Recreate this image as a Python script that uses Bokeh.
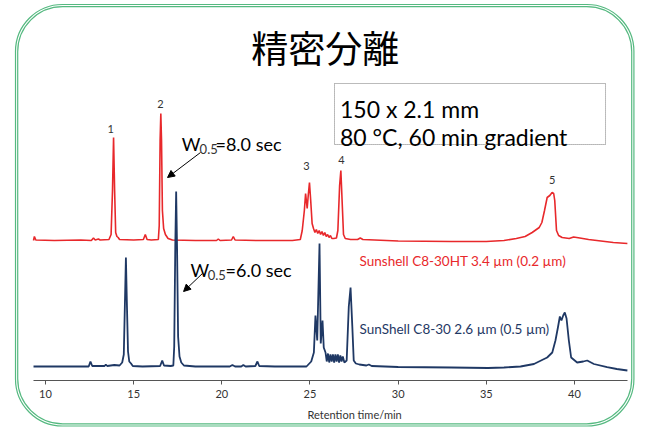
from bokeh.plotting import figure
from bokeh.models import Range1d, Label, BoxAnnotation, Arrow, NormalHead, ColumnDataSource
from bokeh.embed import file_html
from bokeh.resources import INLINE

# ---------------- data (retention time / min, signal / a.u.) ----------------
red_time = [
    9.32, 9.37, 9.45, 10.5, 12.0, 12.6, 12.72, 12.82, 13.0, 13.1,
    13.6, 13.72, 13.80, 13.86, 13.92, 13.98, 14.05, 14.12, 14.2, 15.0,
    15.55, 15.66, 15.76, 16.0, 16.40, 16.45, 16.50, 16.54, 16.58, 16.63,
    16.70, 16.80, 16.95, 17.2, 18.5, 19.7, 19.8, 19.9, 20.55, 20.65,
    20.75, 22.0, 24.0, 24.45, 24.56, 24.68, 24.75, 24.84, 24.90, 24.97,
    25.04, 25.12, 25.20, 25.28, 25.36, 25.44, 25.52, 25.60, 25.68, 25.76,
    25.84, 25.92, 26.00, 26.08, 26.16, 26.24, 26.35, 26.50, 26.58, 26.68,
    26.75, 26.82, 26.90, 27.0, 27.3, 27.7, 27.85, 28.0, 30.0, 33.0,
    35.0, 36.0, 36.7, 37.2, 37.6, 38.0, 38.15, 38.3, 38.45, 38.6,
    38.73, 38.82, 38.88, 38.98, 39.1, 39.3, 39.7, 39.95, 40.3, 40.8,
    41.5, 42.2, 43.0,
]
red_signal = [
    0, 4, 0.5, 0, 0.5, 0, 2.5, 0.5, 1.5, 0.5,
    1, 6, 50, 103, 50, 8, 4, 3, 1, 0.5,
    1, 6, 1, 0.5, 1, 15, 100, 127, 100, 30,
    12, 6, 2, 0.5, 0, 0, 1.5, 0, 0.5, 4,
    0.5, 0, 0, 1, 10, 30, 47, 32, 45, 58,
    40, 17, 12, 8, 11, 7, 10, 6, 9, 5,
    8, 4, 6, 3, 5, 2, 2, 2.5, 10, 55,
    70, 40, 6, 2, 1, 1, 2.5, 1, -0.5, -1,
    -1, 0, 2, 4, 8, 13, 18, 30, 43, 45,
    48, 47, 40, 10, 5, 3, 2, 3.5, 2.5, 1,
    -0.5, -2, -3,
]
blue_time = [
    9.32, 10.5, 12.0, 12.45, 12.55, 12.65, 13.35, 13.42, 13.5, 13.9,
    14.2, 14.35, 14.44, 14.50, 14.56, 14.62, 14.68, 14.75, 14.85, 14.95,
    15.5, 16.5, 16.62, 16.72, 17.1, 17.25, 17.30, 17.36, 17.41, 17.46,
    17.52, 17.60, 17.70, 17.85, 18.5, 20.45, 20.6, 20.75, 21.1, 21.22,
    21.35, 21.9, 22.02, 22.12, 23.0, 24.8, 25.07, 25.22, 25.31, 25.41,
    25.54, 25.61, 25.71, 25.78, 25.88, 25.95, 26.02, 26.09, 26.16, 26.23,
    26.30, 26.37, 26.44, 26.51, 26.58, 26.65, 26.72, 26.79, 26.86, 26.95,
    27.08, 27.20, 27.30, 27.40, 27.48, 27.6, 27.8, 28.2, 28.34, 28.5,
    30.0, 33.0, 35.1, 36.0, 36.94, 37.7, 38.45, 38.74, 38.92, 39.06,
    39.17, 39.26, 39.36, 39.45, 39.55, 39.68, 39.81, 40.15, 40.5, 40.72,
    41.1, 41.85, 42.4, 43.0,
]
blue_signal = [
    0, 0, 0, 0, 5, 0.5, 0.5, 2, 0.5, 1.5,
    1, 4, 12, 60, 109, 60, 15, 5, 3, 0.5,
    0, 0.5, 6, 1, 0.5, 1, 20, 120, 175, 120,
    30, 10, 4, 1, 0, 0, 1.5, 0, 0, 1.5,
    0, 0.5, 5, 0.5, 0, 0, 5, 14, 51, 26,
    123, 23, 46, 19, 14, 5, 13, 4, 12, 5,
    12, 4, 12, 5, 12, 4, 11, 5, 10, 4,
    6, 60, 79, 40, 6, 3, 2, 1, 2, 0.5,
    -0.5, -1, -1.5, -1, 0, 2.5, 9, 14, 26, 39,
    50, 46, 51, 54, 48, 26, 9, 4, 5, 6,
    2.5, -0.7, -2.5, -4,
]
assert len(red_time) == len(red_signal)
assert len(blue_time) == len(blue_signal)

red_offset = 126  # vertical stacking of the upper chromatogram

peak_numbers = ["1", "2", "3", "4", "5"]
peak_label_time = [13.69, 16.52, 24.80, 26.79, 38.73]
peak_label_y = [238, 263, 201, 207, 187]

x_ticks = [10, 15, 20, 25, 30, 35, 40]

title_text = "精密分離"
cond_line1 = "150 x 2.1 mm"
cond_line2 = "80 \u00b0C, 60 min gradient"
red_name = "Sunshell C8-30HT 3.4 \u00b5m (0.2 \u00b5m)"
blue_name = "SunShell C8-30 2.6 \u00b5m (0.5 \u00b5m)"
x_title = "Retention time/min"

RED = "#e8282b"
BLUE = "#1f3864"
GREEN = "#55b980"
FONT = "Lato"

p = figure(width=641, height=428,
           x_range=Range1d(7.448, 43.80), y_range=Range1d(-62, 366),
           output_backend="svg", toolbar_location=None,
           y_axis_location=None,
           min_border_left=0, min_border_right=0, min_border_top=0,
           min_border_bottom=0)
p.outline_line_color = None
p.grid.visible = False
p.background_fill_color = "white"
p.border_fill_color = "white"

ax = p.xaxis[0]
ax.fixed_location = -14
ax.ticker = x_ticks
ax.bounds = (9.32, 43.0)
ax.axis_line_color = "#555555"
ax.axis_line_width = 1.2
ax.major_tick_line_color = "#555555"
ax.major_tick_out = 4
ax.major_tick_in = 0
ax.minor_tick_line_color = None
ax.major_label_standoff = 5
ax.major_label_text_font = FONT
ax.major_label_text_font_size = "11px"
ax.major_label_text_color = "#333333"

red_src = ColumnDataSource(dict(t=red_time, y=[v + red_offset for v in red_signal]))
blue_src = ColumnDataSource(dict(t=blue_time, y=blue_signal))
p.line("t", "y", source=red_src, line_color=RED, line_width=1.6)
p.line("t", "y", source=blue_src, line_color=BLUE, line_width=1.8)

# rounded frame (double green line)
p.add_layout(BoxAnnotation(left=8.299, right=43.37, top=362, bottom=-59.5,
                           fill_alpha=0, line_color=GREEN, line_alpha=1,
                           line_width=1.2, border_radius=47))
p.add_layout(BoxAnnotation(left=8.424, right=43.245, top=359.8, bottom=-57.3,
                           fill_alpha=0, line_color=GREEN, line_alpha=1,
                           line_width=1.2, border_radius=45))

# conditions box
p.add_layout(BoxAnnotation(left=26.39, right=41.76, top=283, bottom=222,
                           fill_alpha=0, line_color="#777777", line_alpha=1,
                           line_width=1, line_dash="1 1"))
p.add_layout(Label(x=26.70, y=257.7, text=cond_line1, text_font=FONT,
                   text_font_size="23px", text_color="black",
                   text_baseline="alphabetic", text_align="left"))
p.add_layout(Label(x=26.70, y=230, text=cond_line2, text_font=FONT,
                   text_font_size="23px", text_color="black",
                   text_baseline="alphabetic", text_align="left"))

# title
p.add_layout(Label(x=25.86, y=319.5, text=title_text, text_font="Noto Sans CJK JP",
                   text_font_size="37px", text_color="black",
                   text_baseline="middle", text_align="center"))

# peak numbers
for s, t, y in zip(peak_numbers, peak_label_time, peak_label_y):
    p.add_layout(Label(x=t, y=y, text=s, text_font=FONT, text_font_size="11px",
                       text_color="#333333", text_align="center",
                       text_baseline="middle"))

# W0.5 annotations
def w_note(x_w, x_sub, x_rest, y_base, rest):
    p.add_layout(Label(x=x_w, y=y_base, text="W", text_font=FONT,
                       text_font_size="18px", text_color="black",
                       text_baseline="alphabetic"))
    p.add_layout(Label(x=x_sub, y=y_base - 5, text="0.5", text_font=FONT,
                       text_font_size="13px", text_color="#333333",
                       text_baseline="alphabetic"))
    p.add_layout(Label(x=x_rest, y=y_base, text=rest, text_font=FONT,
                       text_font_size="18px", text_color="black",
                       text_baseline="alphabetic"))

w_note(17.72, 18.74, 19.64, 222.7, "=8.0 sec")
w_note(18.22, 19.20, 20.21, 96.7, "=6.0 sec")

p.add_layout(Arrow(end=NormalHead(size=7, fill_color="black", line_color="black"),
                   x_start=18.79, y_start=214, x_end=16.92, y_end=189,
                   line_color="black", line_width=1))
p.add_layout(Arrow(end=NormalHead(size=7, fill_color="black", line_color="black"),
                   x_start=18.90, y_start=93, x_end=17.83, y_end=75,
                   line_color="black", line_width=1))

# series names
p.add_layout(Label(x=27.81, y=106, text=red_name, text_font=FONT,
                   text_font_size="13.5px", text_color=RED,
                   text_baseline="middle"))
p.add_layout(Label(x=27.81, y=38, text=blue_name, text_font=FONT,
                   text_font_size="13.5px", text_color=BLUE,
                   text_baseline="middle"))

# x axis title (offset as in the original)
p.add_layout(Label(x=24.86, y=-48, text=x_title, text_font=FONT,
                   text_font_size="11px", text_color="#333333",
                   text_baseline="middle"))

open("out.html", "w").write(file_html(p, INLINE))
